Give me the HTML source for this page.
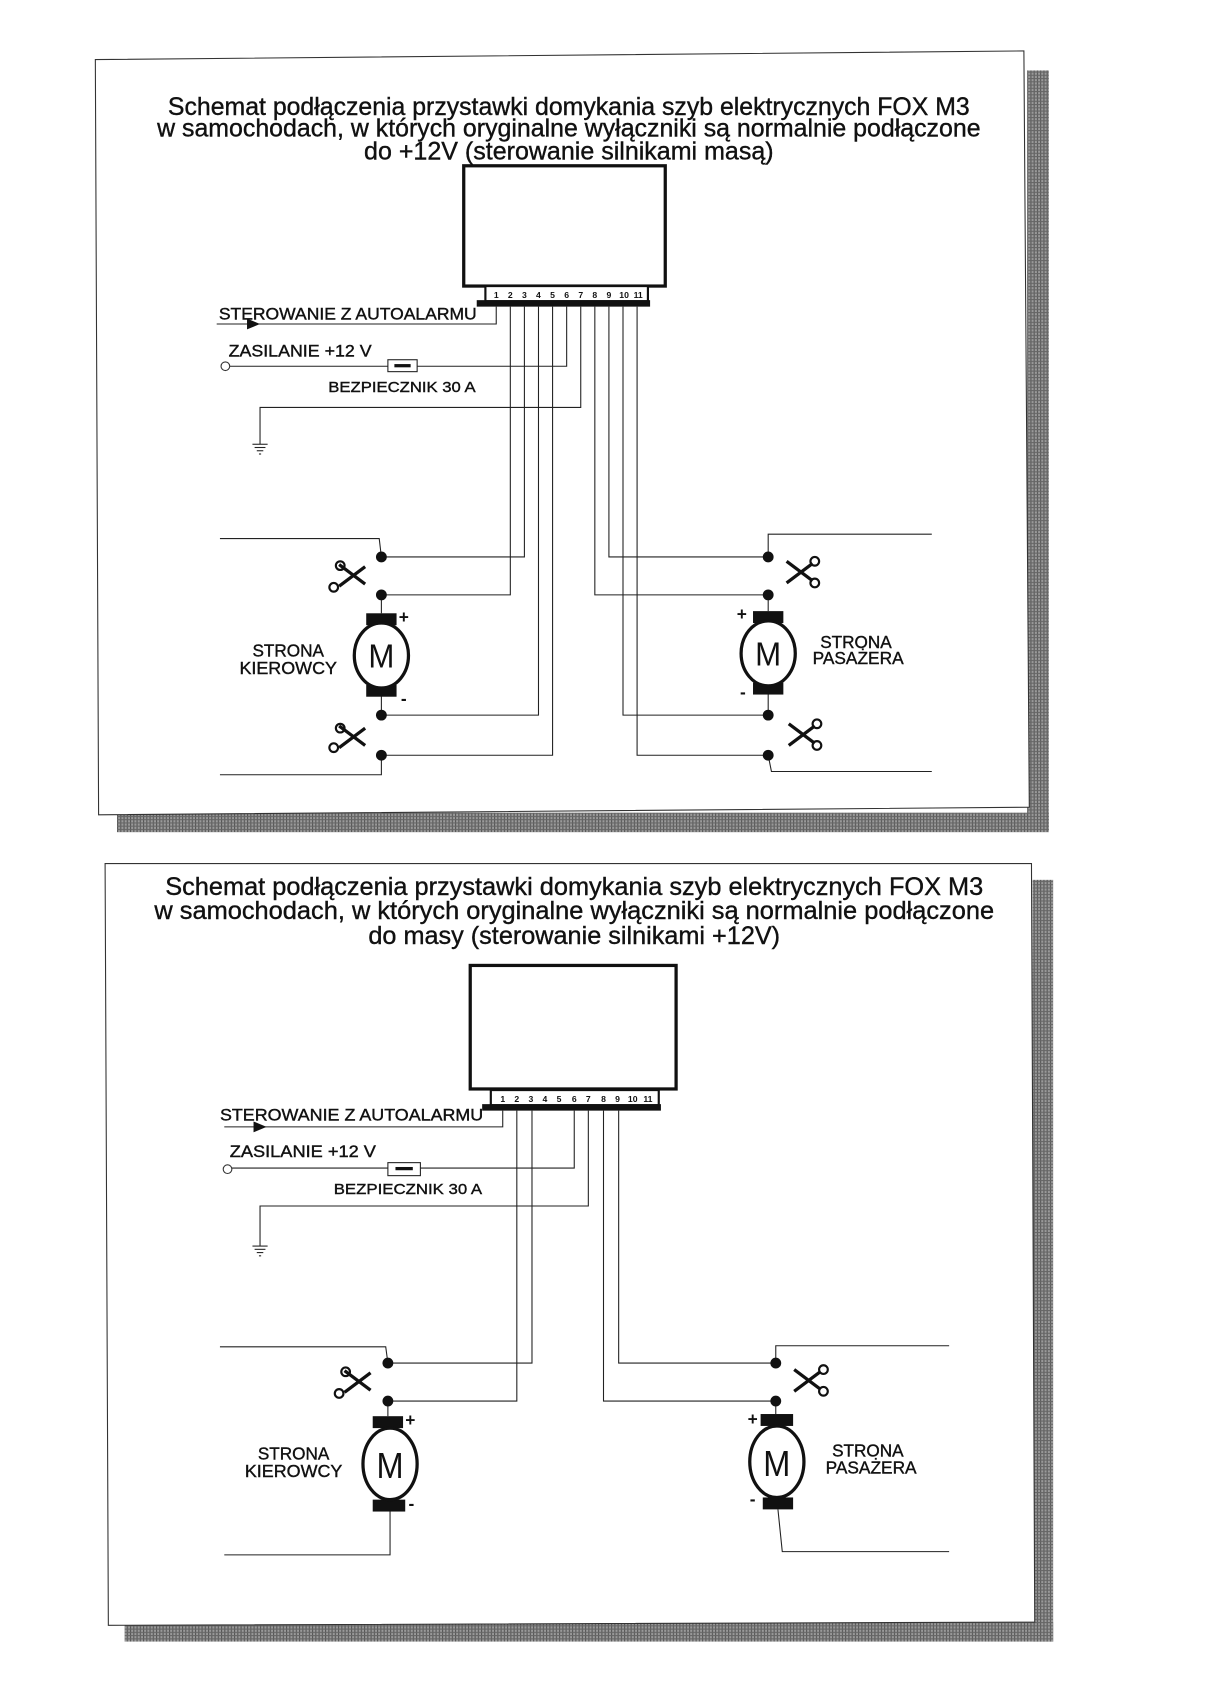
<!DOCTYPE html>
<html><head><meta charset="utf-8"><style>
html,body{margin:0;padding:0;background:#fff;}
svg{display:block;}
text{font-family:"Liberation Sans",sans-serif;fill:#111;}
.t{stroke:#111;stroke-width:0.35;}
</style></head><body>
<svg width="1220" height="1699" viewBox="0 0 1126 1568" preserveAspectRatio="none" xmlns="http://www.w3.org/2000/svg">
<defs>
<pattern id="hat" width="3" height="3" patternUnits="userSpaceOnUse"><rect width="3" height="3" fill="#9a9a9a"/><rect width="1" height="3" fill="#555"/><rect width="3" height="1" fill="#666"/></pattern>
<g id="sc">
 <line x1="-12" y1="-10" x2="12" y2="8" stroke="#111" stroke-width="3"/>
 <line x1="-12" y1="10" x2="12" y2="-8" stroke="#111" stroke-width="3"/>
</g>
</defs>
<rect width="1126" height="1568" fill="#fff"/>

<!-- ===== DIAGRAM 1 ===== -->
<rect x="948" y="65" width="20" height="702" fill="url(#hat)"/>
<rect x="108" y="750" width="860" height="18" fill="url(#hat)"/>
<polygon points="88,55 945,47 950,745 91,752" fill="#fff" stroke="#333" stroke-width="1"/>
<g class="t">
<text x="525" y="106" font-size="23" text-anchor="middle" textLength="740" lengthAdjust="spacingAndGlyphs">Schemat podłączenia przystawki domykania szyb elektrycznych FOX M3</text>
<text x="525" y="126" font-size="23" text-anchor="middle" textLength="760" lengthAdjust="spacingAndGlyphs">w samochodach, w których oryginalne wyłączniki są normalnie podłączone</text>
<text x="525" y="147" font-size="23" text-anchor="middle" textLength="378" lengthAdjust="spacingAndGlyphs">do +12V (sterowanie silnikami masą)</text>
</g>
<rect x="428" y="153" width="186" height="111" fill="none" stroke="#111" stroke-width="3"/>
<rect x="448" y="264" width="150" height="14" fill="#fff" stroke="#111" stroke-width="2"/>
<rect x="440" y="277" width="160" height="6" fill="#111"/>
<g font-size="8" font-weight="bold" text-anchor="middle">
<text x="458" y="275">1</text><text x="471" y="275">2</text><text x="484" y="275">3</text><text x="497" y="275">4</text><text x="510" y="275">5</text><text x="523" y="275">6</text><text x="536" y="275">7</text><text x="549" y="275">8</text><text x="562" y="275">9</text><text x="576" y="275">10</text><text x="589" y="275">11</text>
</g>
<g fill="none" stroke="#222" stroke-width="1">
<polyline points="458,283 458,299 200,299"/>
<polyline points="523,283 523,338 212,338"/>
<polyline points="536,283 536,376 240,376 240,410"/>
<polyline points="471,283 471,549 352,549"/>
<polyline points="484,283 484,514 352,514"/>
<polyline points="497,283 497,660 352,660"/>
<polyline points="510,283 510,697 352,697"/>
<polyline points="549,283 549,549 709,549"/>
<polyline points="562,283 562,514 709,514"/>
<polyline points="575,283 575,660 709,660"/>
<polyline points="588,283 588,697 709,697"/>
<polyline points="203,497 350,497 352,514"/>
<polyline points="352,697 352,715 203,715"/>
<polyline points="860,493 709,493 709,514"/>
<polyline points="709,697 712,712 860,712"/>
<line x1="352" y1="549" x2="352" y2="566"/><line x1="352" y1="642" x2="352" y2="660"/>
<line x1="709" y1="549" x2="709" y2="564"/><line x1="709" y1="640" x2="709" y2="660"/>
<line x1="233" y1="410" x2="247" y2="410"/><line x1="235" y1="413" x2="245" y2="413"/><line x1="237" y1="416" x2="243" y2="416"/><line x1="239" y1="419" x2="241" y2="419"/>
</g>
<polygon points="228,294 240,299 228,304" fill="#111"/>
<circle cx="208" cy="338" r="4" fill="#fff" stroke="#333"/>
<rect x="358" y="332" width="27" height="11" fill="#fff" stroke="#222"/>
<rect x="364" y="336" width="15" height="3" fill="#111"/>
<g class="t">
<text x="202" y="295" font-size="15" textLength="238" lengthAdjust="spacingAndGlyphs">STEROWANIE Z AUTOALARMU</text>
<text x="211" y="329" font-size="15" textLength="132" lengthAdjust="spacingAndGlyphs">ZASILANIE +12 V</text>
<text x="303" y="362" font-size="14" textLength="136" lengthAdjust="spacingAndGlyphs">BEZPIECZNIK 30 A</text>
</g>
<g fill="#111">
<circle cx="352" cy="514" r="5"/><circle cx="352" cy="549" r="5"/><circle cx="352" cy="660" r="5"/><circle cx="352" cy="697" r="5"/>
<circle cx="709" cy="514" r="5"/><circle cx="709" cy="549" r="5"/><circle cx="709" cy="660" r="5"/><circle cx="709" cy="697" r="5"/>
<rect x="338" y="566" width="28" height="11"/><rect x="338" y="632" width="28" height="11"/>
<rect x="695" y="564" width="28" height="11"/><rect x="695" y="630" width="28" height="11"/>
</g>
<ellipse cx="352" cy="605" rx="25" ry="30" fill="#fff" stroke="#111" stroke-width="3"/>
<ellipse cx="709" cy="603" rx="25" ry="30" fill="#fff" stroke="#111" stroke-width="3"/>
<text x="352" y="616" font-size="31" text-anchor="middle" textLength="24" lengthAdjust="spacingAndGlyphs">M</text>
<text x="709" y="614" font-size="31" text-anchor="middle" textLength="24" lengthAdjust="spacingAndGlyphs">M</text>
<text x="368" y="575" font-size="16" font-weight="bold">+</text><text x="370" y="650" font-size="16" font-weight="bold">-</text>
<text x="680" y="572" font-size="16" font-weight="bold">+</text><text x="683" y="644" font-size="16" font-weight="bold">-</text>
<g class="t" font-size="16">
<text x="266" y="606" text-anchor="middle" textLength="66" lengthAdjust="spacingAndGlyphs">STRONA</text><text x="266" y="622" text-anchor="middle" textLength="90" lengthAdjust="spacingAndGlyphs">KIEROWCY</text>
<text x="790" y="598" text-anchor="middle" textLength="66" lengthAdjust="spacingAndGlyphs">STRONA</text><text x="792" y="613" text-anchor="middle" textLength="84" lengthAdjust="spacingAndGlyphs">PASAŻERA</text>
</g>
<use href="#sc" x="325" y="531"/><use href="#sc" x="325" y="680"/>
<use href="#sc" x="738" y="528"/><use href="#sc" x="740" y="678"/>
<g fill="none" stroke="#111" stroke-width="2">
<circle cx="308" cy="542" r="4"/><circle cx="314" cy="522" r="4"/>
<circle cx="308" cy="690" r="4"/><circle cx="314" cy="672" r="4"/>
<circle cx="752" cy="538" r="4"/><circle cx="752" cy="518" r="4"/>
<circle cx="754" cy="688" r="4"/><circle cx="754" cy="668" r="4"/>
</g>

<!-- ===== DIAGRAM 2 ===== -->
<rect x="953" y="812" width="19" height="703" fill="url(#hat)"/>
<rect x="115" y="1497" width="857" height="18" fill="url(#hat)"/>
<polygon points="97,797 952,797 955,1497 100,1500" fill="#fff" stroke="#333" stroke-width="1"/>
<g class="t">
<text x="530" y="826" font-size="23" text-anchor="middle" textLength="755" lengthAdjust="spacingAndGlyphs">Schemat podłączenia przystawki domykania szyb elektrycznych FOX M3</text>
<text x="530" y="848" font-size="23" text-anchor="middle" textLength="775" lengthAdjust="spacingAndGlyphs">w samochodach, w których oryginalne wyłączniki są normalnie podłączone</text>
<text x="530" y="871" font-size="23" text-anchor="middle" textLength="380" lengthAdjust="spacingAndGlyphs">do masy (sterowanie silnikami +12V)</text>
</g>
<rect x="434" y="891" width="190" height="114" fill="none" stroke="#111" stroke-width="3"/>
<rect x="453" y="1006" width="155" height="14" fill="#fff" stroke="#111" stroke-width="2"/>
<rect x="445" y="1019" width="165" height="6" fill="#111"/>
<g font-size="8" font-weight="bold" text-anchor="middle">
<text x="464" y="1017">1</text><text x="477" y="1017">2</text><text x="490" y="1017">3</text><text x="503" y="1017">4</text><text x="516" y="1017">5</text><text x="530" y="1017">6</text><text x="543" y="1017">7</text><text x="557" y="1017">8</text><text x="570" y="1017">9</text><text x="584" y="1017">10</text><text x="598" y="1017">11</text>
</g>
<g fill="none" stroke="#222" stroke-width="1">
<polyline points="464,1025 464,1040 207,1040"/>
<polyline points="530,1025 530,1078 213,1078"/>
<polyline points="543,1025 543,1113 240,1113 240,1150"/>
<polyline points="477,1025 477,1293 358,1293"/>
<polyline points="491,1025 491,1258 358,1258"/>
<polyline points="557,1025 557,1293 716,1293"/>
<polyline points="571,1025 571,1258 716,1258"/>
<polyline points="203,1243 356,1243 358,1258"/>
<polyline points="360,1395 360,1435 207,1435"/>
<polyline points="876,1242 716,1242 716,1258"/>
<polyline points="718,1393 722,1432 876,1432"/>
<line x1="358" y1="1293" x2="358" y2="1307"/>
<line x1="716" y1="1293" x2="716" y2="1305"/>
<line x1="233" y1="1150" x2="247" y2="1150"/><line x1="235" y1="1153" x2="245" y2="1153"/><line x1="237" y1="1156" x2="243" y2="1156"/><line x1="239" y1="1159" x2="241" y2="1159"/>
</g>
<polygon points="234,1035 246,1040 234,1045" fill="#111"/>
<circle cx="210" cy="1079" r="4" fill="#fff" stroke="#333"/>
<rect x="358" y="1073" width="30" height="12" fill="#fff" stroke="#222"/>
<rect x="365" y="1077" width="16" height="3" fill="#111"/>
<g class="t">
<text x="203" y="1034" font-size="15" textLength="243" lengthAdjust="spacingAndGlyphs">STEROWANIE Z AUTOALARMU</text>
<text x="212" y="1068" font-size="15" textLength="135" lengthAdjust="spacingAndGlyphs">ZASILANIE +12 V</text>
<text x="308" y="1102" font-size="14" textLength="137" lengthAdjust="spacingAndGlyphs">BEZPIECZNIK 30 A</text>
</g>
<g fill="#111">
<circle cx="358" cy="1258" r="5"/><circle cx="358" cy="1293" r="5"/>
<circle cx="716" cy="1258" r="5"/><circle cx="716" cy="1293" r="5"/>
<rect x="344" y="1307" width="28" height="11"/><rect x="344" y="1384" width="30" height="11"/>
<rect x="702" y="1305" width="30" height="11"/><rect x="704" y="1382" width="28" height="11"/>
</g>
<ellipse cx="360" cy="1351" rx="25" ry="33" fill="#fff" stroke="#111" stroke-width="3"/>
<ellipse cx="717" cy="1349" rx="25" ry="33" fill="#fff" stroke="#111" stroke-width="3"/>
<text x="360" y="1364" font-size="33" text-anchor="middle" textLength="25" lengthAdjust="spacingAndGlyphs">M</text>
<text x="717" y="1362" font-size="33" text-anchor="middle" textLength="25" lengthAdjust="spacingAndGlyphs">M</text>
<text x="374" y="1316" font-size="16" font-weight="bold">+</text><text x="377" y="1393" font-size="16" font-weight="bold">-</text>
<text x="690" y="1315" font-size="16" font-weight="bold">+</text><text x="692" y="1389" font-size="16" font-weight="bold">-</text>
<g class="t" font-size="16">
<text x="271" y="1347" text-anchor="middle" textLength="66" lengthAdjust="spacingAndGlyphs">STRONA</text><text x="271" y="1363" text-anchor="middle" textLength="90" lengthAdjust="spacingAndGlyphs">KIEROWCY</text>
<text x="801" y="1344" text-anchor="middle" textLength="66" lengthAdjust="spacingAndGlyphs">STRONA</text><text x="804" y="1360" text-anchor="middle" textLength="84" lengthAdjust="spacingAndGlyphs">PASAŻERA</text>
</g>
<use href="#sc" x="330" y="1275"/><use href="#sc" x="745" y="1274"/>
<g fill="none" stroke="#111" stroke-width="2">
<circle cx="313" cy="1286" r="4"/><circle cx="319" cy="1266" r="4"/>
<circle cx="760" cy="1284" r="4"/><circle cx="760" cy="1264" r="4"/>
</g>
</svg>
</body></html>
